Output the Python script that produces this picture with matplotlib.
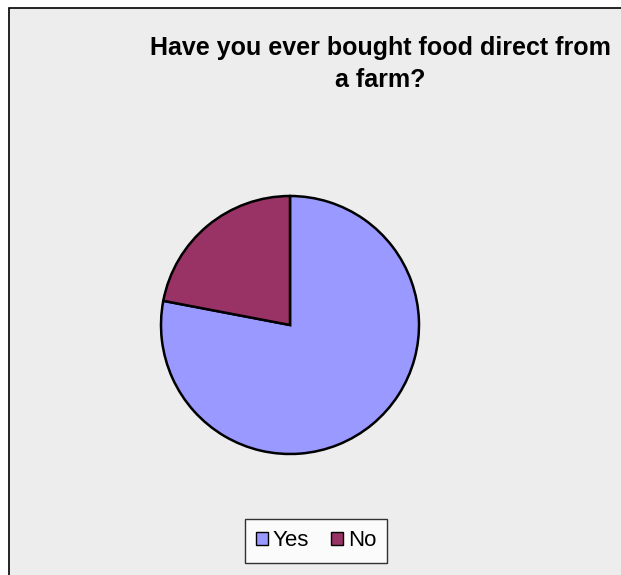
import matplotlib.pyplot as plt
from matplotlib.patches import Rectangle, Patch

labels = ["Yes", "No"]
shares = [78, 22]
colors = ["#9999FF", "#993366"]
title_lines = ["Have you ever bought food direct from", "a farm?"]

W, H = 621, 575
fig = plt.figure(figsize=(W / 100, H / 100), dpi=100)
fig.patch.set_facecolor("white")

# chart area: grey panel with a thin black border on top/left
bg = fig.add_axes([0, 0, 1, 1], zorder=-1)
bg.set_xlim(0, W)
bg.set_ylim(H, 0)
bg.axis("off")
bg.add_patch(Rectangle((9, 8), W + 20, H + 20, facecolor="#EDEDED",
                       edgecolor="black", linewidth=1.2))

for y, line in zip([48, 80], title_lines):
    fig.text(380 / W, 1 - y / H, line, ha="center", va="center",
             fontsize=18, fontweight="bold", family="Liberation Sans")

r = 129
ax = fig.add_axes([(290 - r) / W, 1 - (325 + r) / H, 2 * r / W, 2 * r / H])
ax.pie(shares, colors=colors, startangle=90, counterclock=False,
       wedgeprops=dict(edgecolor="black", linewidth=1.8))
ax.set_xlim(-1, 1)
ax.set_ylim(-1, 1)
ax.set_aspect("equal")
ax.axis("off")

handles = [Patch(facecolor=c, edgecolor="black", label=l) for c, l in zip(colors, labels)]
leg = fig.legend(handles=handles, loc="center", bbox_to_anchor=(316 / W, 1 - 541 / H),
                 ncol=2, frameon=True, fancybox=False,
                 prop={"family": "Liberation Sans", "size": 16},
                 handlelength=0.55, handleheight=0.55, handletextpad=0.2,
                 columnspacing=1.0, borderpad=0.5, borderaxespad=0)
leg.get_frame().set_edgecolor("black")
leg.get_frame().set_linewidth(1.0)
leg.get_frame().set_facecolor("white")

fig.savefig("out.png", dpi=100, facecolor=fig.get_facecolor())
